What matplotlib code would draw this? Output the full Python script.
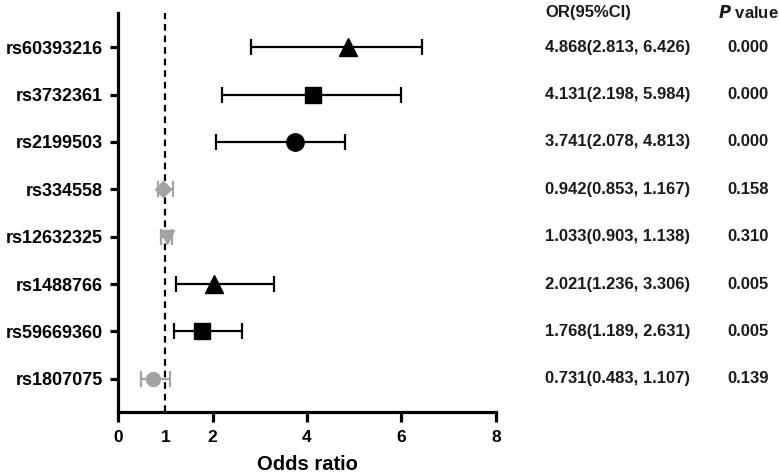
import numpy as np
import matplotlib
matplotlib.use("Agg")
import matplotlib.pyplot as plt
import matplotlib.transforms as mtransforms

plt.rcParams['font.family'] = ['Liberation Sans', 'DejaVu Sans']
plt.rcParams['font.weight'] = 'bold'

# Gögn
snps = ["rs60393216", "rs3732361", "rs2199503", "rs334558",
        "rs12632325", "rs1488766", "rs59669360", "rs1807075"]
odds = [4.868, 4.131, 3.741, 0.942, 1.033, 2.021, 1.768, 0.731]
ci_low = [2.813, 2.198, 2.078, 0.853, 0.903, 1.236, 1.189, 0.483]
ci_high = [6.426, 5.984, 4.813, 1.167, 1.138, 3.306, 2.631, 1.107]
p_vals = ["0.000", "0.000", "0.000", "0.158", "0.310", "0.005", "0.005", "0.139"]
markers = ["^", "s", "o", "D", "v", "^", "s", "o"]
significant = [True, True, True, False, False, True, True, False]

black = "#000000"
grey = "#a3a3a3"

fig = plt.figure(figsize=(7.79, 4.75), dpi=100)
ax = fig.add_axes([0.1515, 0.1326, 0.4852, 0.84])

y = np.arange(len(snps))
for i in range(len(snps)):
    col = black if significant[i] else grey
    ms = 12.5 if significant[i] else 10
    if markers[i] in ("s", "D"):
        ms -= 1.5
    ax.errorbar(odds[i], y[i],
                xerr=[[odds[i] - ci_low[i]], [ci_high[i] - odds[i]]],
                fmt=markers[i], color=col, ecolor=col, markersize=ms,
                elinewidth=1.6, capsize=5.5, capthick=1.6, zorder=3)

ax.axvline(1, color=black, linestyle=(0, (3, 2.2)), linewidth=1.6, zorder=2)

ax.set_xlim(0, 8)
ax.set_ylim(len(snps) - 1 + 0.7, -0.72)
ax.set_xticks([0, 1, 2, 4, 6, 8])
ax.set_xticklabels(["0", "1", "2", "4", "6", "8"])
ax.xaxis.get_major_ticks()[1].tick1line.set_visible(False)
ax.set_yticks(y)
ax.set_yticklabels(snps)

for s in ["top", "right"]:
    ax.spines[s].set_visible(False)
for s in ["left", "bottom"]:
    ax.spines[s].set_linewidth(2.3)

ax.tick_params(axis="y", length=6, width=2.3, labelsize=13, pad=5)
ax.tick_params(axis="x", length=7, width=2.3, labelsize=12.5, pad=6)
ax.set_xlabel("Odds ratio", fontsize=14.5, fontweight="bold", labelpad=7)

# Textadálkar
trans = mtransforms.blended_transform_factory(ax.transAxes, ax.transData)
x_or = (545 - 118) / 378
x_p = (748 - 118) / 378
ax.text(x_or, -0.74, "OR(95%CI)", transform=trans, fontsize=12,
        ha="left", va="center", color="#1a1a1a", clip_on=False)
ax.text(x_p, -0.74, r"$\bfit{P}$ value", transform=trans, fontsize=12,
        ha="center", va="center", color="#1a1a1a", clip_on=False)
for i in range(len(snps)):
    ax.text(x_or, y[i], f"{odds[i]:.3f}({ci_low[i]:.3f}, {ci_high[i]:.3f})",
            transform=trans, fontsize=12, ha="left", va="center",
            color="#1a1a1a", clip_on=False)
    ax.text(x_p, y[i], p_vals[i], transform=trans, fontsize=12,
            ha="center", va="center", color="#1a1a1a", clip_on=False)

plt.savefig("out.png", dpi=100)
